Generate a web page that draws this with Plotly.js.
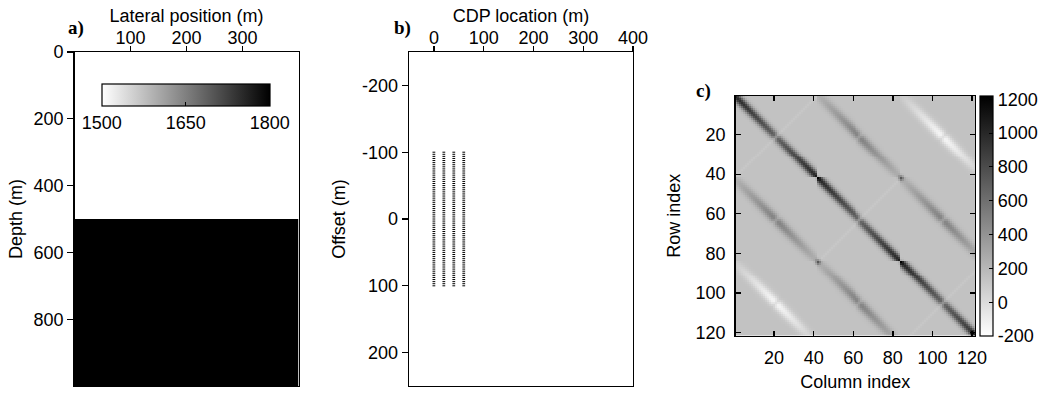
<!DOCTYPE html>
<html>
<head>
<meta charset="utf-8">
<script src="https://cdn.plot.ly/plotly-3.0.1.min.js"></script>
<style>html,body{margin:0;padding:0;background:#fff;}#chart{width:1050px;height:396px;}</style>
</head>
<body>
<div id="chart"></div>
<script>
// ---------- Panel a: two-layer velocity model ----------
const lateralEdges = [0, 400];            // m
const layerDepthEdges = [0, 500, 1000];   // m
const layerVelocities = [1500, 1800];     // m/s
const velocityTicks = [1500, 1650, 1800];
const lateralTicks = [100, 200, 300];
const depthTicks = [0, 200, 400, 600, 800];

// ---------- Panel b: acquisition geometry ----------
const cdpLocations = [0, 20, 40, 60];     // m
const offsets = [-100,-96.875,-93.75,-90.625,-87.5,-84.375,-81.25,-78.125,-75,-71.875,-68.75,-65.625,-62.5,-59.375,-56.25,-53.125,-50,-46.875,-43.75,-40.625,-37.5,-34.375,-31.25,-28.125,-25,-21.875,-18.75,-15.625,-12.5,-9.375,-6.25,-3.125,0,3.125,6.25,9.375,12.5,15.625,18.75,21.875,25,28.125,31.25,34.375,37.5,40.625,43.75,46.875,50,53.125,56.25,59.375,62.5,65.625,68.75,71.875,75,78.125,81.25,84.375,87.5,90.625,93.75,96.875,100];
const cdpTicks = [0, 100, 200, 300, 400];
const offsetTicks = [-200, -100, 0, 100, 200];
const offsetTickLabels = ['-200', '-100', '0', '100', '200'];

// ---------- Panel c: matrix (features) ----------
const matrixSize = 121;
const blockPeriod = 42;                    // dark corners at 0, 42, 84; breaks at 21, 63, 105
const backgroundLevel = 140;
const bandLevels = [880, 370, -300];       // contrast for super-block distance 0, 1, 2
const bandEndWeights = [1.0, 0.25, 0.15];
const bandMidWeights = [0.6, 1.0, 1.0];
const bandWidths = [2.0, 2.3, 2.4];
const antiDiagonalLevel = -30;
const dotRows = [42, 84, 42, 84, 120];
const dotCols = [42, 84, 84, 42, 120];
const dotLevels = [200, 200, 500, 500, 300];
const matrixTicks = [20, 40, 60, 80, 100, 120];
const matrixColorTicks = [-200, 0, 200, 400, 600, 800, 1000, 1200];
const matrixColorTickLabels = ['-200', '0', '200', '400', '600', '800', '1000', '1200'];

// build panel b points
const geoX = [], geoY = [];
cdpLocations.forEach(c => offsets.forEach(o => { geoX.push(c); geoY.push(o); }));

// build panel c matrix
const idx = [];
for (let k = 1; k <= matrixSize; k++) idx.push(k);
const half = blockPeriod / 2;
const Z = idx.map(i => idx.map(j => {
  const A = Math.floor(i / blockPeriod), B = Math.floor(j / blockPeriod);
  const li = i - A * blockPeriod, lj = j - B * blockPeriod;
  const d = Math.abs(A - B);
  let v = backgroundLevel;
  if (d < bandLevels.length) {
    const delta = lj - li;
    const t = (li + lj) / 2;
    const m = Math.max(0, 1 - Math.abs(t - half) / half);
    const w = bandEndWeights[d] + (bandMidWeights[d] - bandEndWeights[d]) * m;
    const notch = 1 - 0.45 * Math.exp(-Math.pow(t - half, 2) / (2 * 0.5 * 0.5));
    const s = bandWidths[d];
    v += bandLevels[d] * w * notch * Math.exp(-delta * delta / (2 * s * s));
    if (d === 0) {
      const a = li + lj - blockPeriod;
      v += antiDiagonalLevel * Math.exp(-a * a / (2 * 0.8 * 0.8));
    }
  }
  for (let q = 0; q < dotRows.length; q++) {
    const r2 = Math.pow(i - dotRows[q], 2) + Math.pow(j - dotCols[q], 2);
    v += dotLevels[q] * Math.exp(-r2 / (2 * 0.9 * 0.9));
  }
  return v;
}));

const F = 'Liberation Sans, Arial, sans-serif';
const FS = 18;
const grey = [[0, '#ffffff'], [1, '#000000']];
const W = 1050, H = 396;
const px = v => v / W, py = v => 1 - v / H;

const traces = [
  {
    type: 'heatmap', x: lateralEdges, y: layerDepthEdges,
    z: layerVelocities.map(v => [v]),
    colorscale: grey, zmin: 1500, zmax: 1800,
    xaxis: 'x', yaxis: 'y', hoverinfo: 'skip',
    colorbar: {
      orientation: 'h', x: px(101.7), xanchor: 'left', y: py(84), yanchor: 'top',
      lenmode: 'pixels', len: 168, thickness: 22, xpad: 0, ypad: 0,
      outlinecolor: '#000', outlinewidth: 1.2,
      tickvals: velocityTicks, ticks: 'inside', ticklen: 4, tickcolor: '#000',
      tickfont: {family: F, size: FS, color: '#000'}
    }
  },
  {
    type: 'scatter', mode: 'markers', x: geoX, y: geoY,
    xaxis: 'x2', yaxis: 'y2',
    marker: {symbol: 'line-ew', size: 2, color: '#000', line: {width: 1, color: '#000'}},
    showlegend: false, hoverinfo: 'skip'
  },
  {
    type: 'heatmap', x: idx, y: idx, z: Z,
    colorscale: grey, zmin: -200, zmax: 1220,
    xaxis: 'x3', yaxis: 'y3', hoverinfo: 'skip',
    colorbar: {
      x: px(980), xanchor: 'left', y: py(96), yanchor: 'top',
      lenmode: 'pixels', len: 240, thickness: 12.5, xpad: 0, ypad: 0,
      outlinecolor: '#000', outlinewidth: 1.2,
      tickvals: matrixColorTicks, ticktext: matrixColorTickLabels,
      ticks: 'inside', ticklen: 4, tickcolor: '#000',
      tickfont: {family: F, size: FS, color: '#000'}
    }
  }
];

const axBase = {
  showgrid: false, zeroline: false, showline: true, linecolor: '#000', linewidth: 1.3,
  tickcolor: '#000', tickwidth: 1.3, tickfont: {family: F, size: FS, color: '#000'},
  automargin: false, fixedrange: true
};

const layout = {
  width: W, height: H,
  margin: {l: 0, r: 0, t: 0, b: 0},
  paper_bgcolor: '#fff', plot_bgcolor: '#fff',
  font: {family: F, size: FS, color: '#000'},
  showlegend: false,
  xaxis: Object.assign({}, axBase, {
    domain: [px(74.5), px(298.5)], anchor: 'y', side: 'top', range: [0, 400],
    tickvals: lateralTicks, ticks: 'outside', ticklen: 5, mirror: true, ticklabelstandoff: -5,
    title: {text: 'Lateral position (m)', font: {family: F, size: FS}, standoff: 0}
  }),
  yaxis: Object.assign({}, axBase, {
    domain: [py(386), py(52)], anchor: 'x', range: [1000, 0],
    tickvals: depthTicks, ticks: 'outside', ticklen: 6, mirror: true,
    title: {text: 'Depth (m)', font: {family: F, size: FS}, standoff: 6}
  }),
  xaxis2: Object.assign({}, axBase, {
    domain: [px(409), px(633)], anchor: 'y2', side: 'top', range: [-50, 400],
    tickvals: cdpTicks, ticks: 'outside', ticklen: 5, mirror: true, ticklabelstandoff: -5,
    title: {text: 'CDP location (m)', font: {family: F, size: FS}, standoff: 0}
  }),
  yaxis2: Object.assign({}, axBase, {
    domain: [py(386), py(52)], anchor: 'x2', range: [250, -250],
    tickvals: offsetTicks, ticktext: offsetTickLabels, ticks: 'outside', ticklen: 6, mirror: true,
    title: {text: 'Offset (m)', font: {family: F, size: FS}, standoff: 11}
  }),
  xaxis3: Object.assign({}, axBase, {
    domain: [px(735.5), px(975)], anchor: 'y3', range: [0.5, 121.5],
    tickvals: matrixTicks, ticks: 'inside', ticklen: 5, mirror: 'ticks', ticklabelstandoff: 6,
    title: {text: 'Column index', font: {family: F, size: FS}, standoff: 8}
  }),
  yaxis3: Object.assign({}, axBase, {
    domain: [py(335.5), py(96)], anchor: 'x3', range: [121.5, 0.5],
    tickvals: matrixTicks, ticks: 'inside', ticklen: 5, mirror: 'ticks', ticklabelstandoff: 5,
    title: {text: 'Row index', font: {family: F, size: FS}, standoff: 10}
  }),
  annotations: [
    {text: '<b>a)</b>', x: px(66), y: py(15), xref: 'paper', yref: 'paper', showarrow: false,
     font: {family: 'Liberation Serif, Times New Roman, serif', size: 19, color: '#000'}},
    {text: '<b>b)</b>', x: px(402), y: py(15), xref: 'paper', yref: 'paper', showarrow: false,
     font: {family: 'Liberation Serif, Times New Roman, serif', size: 19, color: '#000'}},
    {text: '<b>c)</b>', x: px(713), y: py(78), xref: 'paper', yref: 'paper', showarrow: false,
     font: {family: 'Liberation Serif, Times New Roman, serif', size: 19, color: '#000'}}
  ]
};

Plotly.newPlot('chart', traces, layout, {staticPlot: true, displayModeBar: false});
</script>
</body>
</html>
